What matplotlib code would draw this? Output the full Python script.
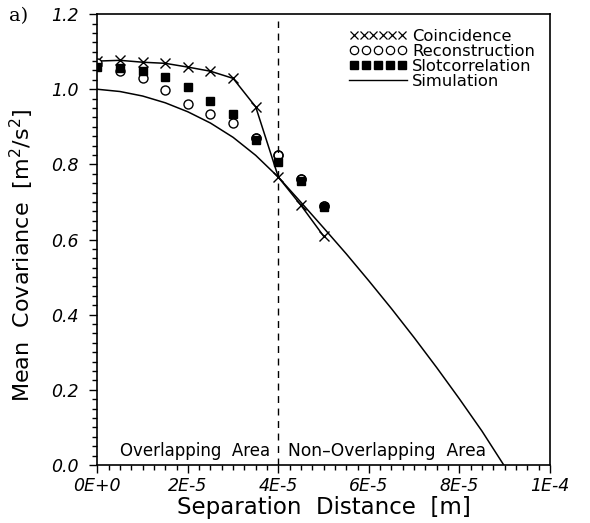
import matplotlib
matplotlib.use("Agg")
import matplotlib.pyplot as plt
from matplotlib.lines import Line2D
from matplotlib.legend_handler import HandlerLine2D
from matplotlib.ticker import MultipleLocator, FixedLocator

# data
sep = [0, 0.5e-5, 1.0e-5, 1.5e-5, 2.0e-5, 2.5e-5, 3.0e-5, 3.5e-5, 4.0e-5, 4.5e-5, 5.0e-5]
coincidence = [1.075, 1.077, 1.072, 1.069, 1.059, 1.048, 1.029, 0.953, 0.766, 0.691, 0.609]
reconstruction = [1.07, 1.049, 1.03, 0.998, 0.961, 0.935, 0.909, 0.870, 0.824, 0.762, 0.690]
slotcorrelation = [1.058, 1.057, 1.048, 1.033, 1.005, 0.970, 0.935, 0.864, 0.806, 0.755, 0.687]

sim_x = [0, 0.5e-5, 1.0e-5, 1.5e-5, 2.0e-5, 2.5e-5, 3.0e-5, 3.5e-5, 4.0e-5,
         4.5e-5, 5.0e-5, 5.5e-5, 6.0e-5, 6.5e-5, 7.0e-5, 7.5e-5, 8.0e-5,
         8.5e-5, 8.98e-5]
sim_y = [1.0, 0.994, 0.982, 0.964, 0.940, 0.910, 0.872, 0.824, 0.766,
         0.699, 0.631, 0.562, 0.49, 0.416, 0.339, 0.259, 0.176, 0.09, 0.0]

x_ticks = [0, 2e-5, 4e-5, 6e-5, 8e-5, 1e-4]
x_labels = ["0E+0", "2E-5", "4E-5", "6E-5", "8E-5", "1E-4"]
y_ticks = [0.0, 0.2, 0.4, 0.6, 0.8, 1.0, 1.2]
y_labels = ["0.0", "0.2", "0.4", "0.6", "0.8", "1.0", "1.2"]
boundary = 4e-5

plt.rcParams["font.family"] = "DejaVu Sans"
fig = plt.figure(figsize=(5.9, 5.23), dpi=100)
ax = fig.add_axes([0.165, 0.111, 0.767, 0.862])

ax.plot(sim_x, sim_y, color="black", lw=1.1)
ax.plot(sep, coincidence, color="black", lw=1.1, marker="x", ms=7, mew=1.0)
ax.plot(sep, reconstruction, ls="none", marker="o", ms=6.5, mfc="white",
        mec="black", mew=1.0)
ax.plot(sep, slotcorrelation, ls="none", marker="s", ms=6, mfc="black",
        mec="black", zorder=2)
ax.plot(sep[-4:], reconstruction[-4:], ls="none", marker="o", ms=6.5,
        mfc="none", mec="black", mew=1.0, zorder=3)
ax.axvline(boundary, ymax=0.985, color="black", lw=1.0, ls=(0, (5, 4)))

ax.set_xlim(0, 1e-4)
ax.set_ylim(0, 1.2)
ax.xaxis.set_major_locator(FixedLocator(x_ticks))
ax.set_xticklabels(x_labels, fontsize=12.5, style="italic")
ax.xaxis.set_minor_locator(MultipleLocator(2.5e-6))
ax.yaxis.set_major_locator(FixedLocator(y_ticks))
ax.set_yticklabels(y_labels, fontsize=12.5, style="italic")
ax.yaxis.set_minor_locator(MultipleLocator(0.025))
ax.tick_params(which="major", length=5.5, width=1.0, direction="out")
ax.tick_params(which="minor", length=3.3, width=1.0, direction="out")
ax.tick_params(axis="x", which="major", pad=3)
ax.tick_params(axis="y", which="major", pad=8)
for s in ax.spines.values():
    s.set_linewidth(1.2)

ax.set_xlabel("Separation  Distance  [m]", fontsize=16.5, labelpad=1)
ax.set_ylabel("Mean  Covariance  [m$^2$/s$^2$]", fontsize=16)
ax.yaxis.set_label_coords(-0.135, 0.465)

ax.text(2.17e-5, 0.012, "Overlapping  Area", ha="center", va="bottom", fontsize=12)
ax.text(6.41e-5, 0.012, "Non\u2013Overlapping  Area", ha="center", va="bottom", fontsize=12.3)
fig.text(0.015, 0.97, "a)", family="DejaVu Serif", fontsize=14, va="center")

handles = [
    Line2D([], [], ls="none", marker="x", color="black", ms=5.5, mew=0.9),
    Line2D([], [], ls="none", marker="o", mfc="white", mec="black", ms=6, mew=0.9),
    Line2D([], [], ls="none", marker="s", color="black", ms=6),
    Line2D([], [], color="black", lw=1.0),
]
names = ["Coincidence", "Reconstruction", "Slotcorrelation", "Simulation"]
leg = ax.legend(handles, names, loc="upper right", bbox_to_anchor=(1.0, 1.0),
                frameon=False, fontsize=11.8, handlelength=3.5, handletextpad=0.35,
                labelspacing=0.0, borderpad=0.4,
                handler_map={handles[0]: HandlerLine2D(numpoints=6),
                             handles[1]: HandlerLine2D(numpoints=5),
                             handles[2]: HandlerLine2D(numpoints=5)})

fig.savefig("out.png", dpi=100)
